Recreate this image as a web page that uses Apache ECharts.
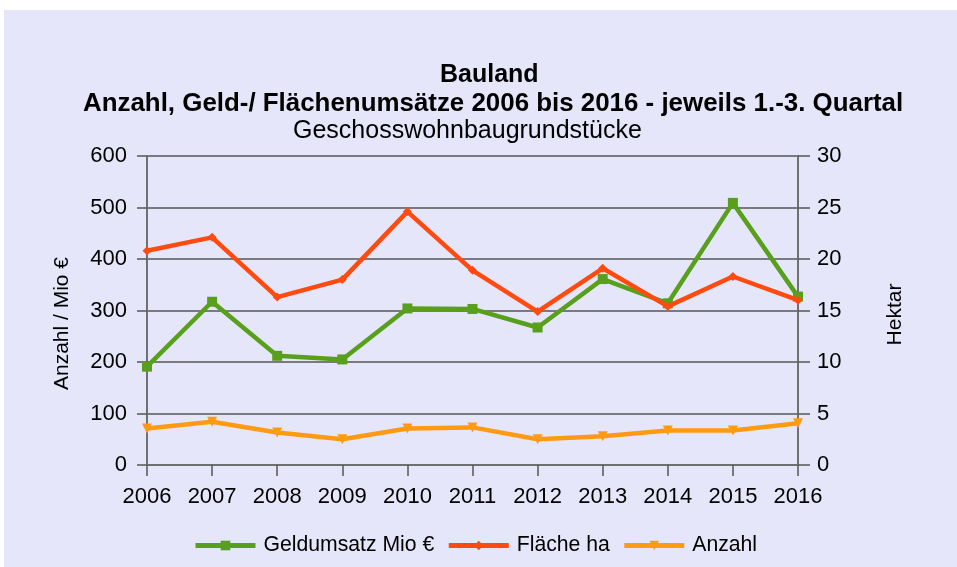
<!DOCTYPE html>
<html><head><meta charset="utf-8">
<script src="https://cdn.jsdelivr.net/npm/echarts@6/dist/echarts.min.js"></script>
<style>html,body{margin:0;padding:0;background:#fff}#c{width:957px;height:567px}</style>
</head><body><div id="c"></div>
<script>
const years = ['2006','2007','2008','2009','2010','2011','2012','2013','2014','2015','2016'];
const geldumsatz = [191, 317, 212, 205, 304, 303, 267, 361, 314, 509, 327];
const flaeche = [20.8, 22.1, 16.3, 18.0, 24.6, 18.9, 14.9, 19.1, 15.4, 18.3, 16.0];
const anzahl = [71, 84, 63, 50, 71, 73, 50, 56, 67, 67, 81];
const leftTicks = [0, 600, 100];
const rightTicks = [0, 30, 5];

const FONT = 'Liberation Sans, Arial, sans-serif';
const GREEN = '#58A01C', RED = '#FF4A10', ORANGE = '#FF9A12';
const chart = echarts.init(document.getElementById('c'));
chart.setOption({
  backgroundColor: '#ffffff',
  animation: false,
  graphic: [{type:'rect', shape:{x:4,y:10,width:953,height:557}, style:{fill:'#E6E6FA'}, z:-10, silent:true}],
  title: [
    {text:'Bauland', left:435, top:58, textStyle:{fontFamily:FONT, fontSize:25, fontWeight:'bold', color:'#000'}},
    {text:'Anzahl, Geld-/ Flächenumsätze 2006 bis 2016 - jeweils 1.-3. Quartal', left:78, top:86, textStyle:{fontFamily:FONT, fontSize:25.9, fontWeight:'bold', color:'#000'}},
    {text:'Geschosswohnbaugrundstücke', left:288, top:114, textStyle:{fontFamily:FONT, fontSize:25, fontWeight:'normal', color:'#000'}}
  ],
  grid: {left:147, right:159, top:156, bottom:102, containLabel:false},
  legend: {
    bottom: 6, left: 188, itemWidth: 60, itemHeight: 12, itemGap: 12,
    textStyle: {fontFamily:FONT, fontSize:21.2, color:'#000', padding:[0,0,0,3]},
    data: [
      {name:'Geldumsatz Mio €', lineStyle:{width:5, color:GREEN}},
      {name:'Fläche ha', lineStyle:{width:5, color:RED}},
      {name:'Anzahl', lineStyle:{width:5, color:ORANGE}}
    ]
  },
  xAxis: {
    type:'category', data: years, boundaryGap:false,
    axisLine:{lineStyle:{color:'#707070', width:2}},
    axisTick:{show:true, length:11, lineStyle:{color:'#555', width:1.5}},
    axisLabel:{fontFamily:FONT, fontSize:22, color:'#000', margin:21},
    splitLine:{show:false}
  },
  yAxis: [
    {type:'value', min:leftTicks[0], max:leftTicks[1], interval:leftTicks[2],
     name:'Anzahl / Mio €', nameLocation:'middle', nameGap:74, nameRotate:90,
     nameTextStyle:{fontFamily:FONT, fontSize:21, color:'#000', padding:[0,26,0,0]},
     axisLine:{show:true, lineStyle:{color:'#707070', width:2}},
     axisTick:{show:true, length:10, lineStyle:{color:'#555', width:1.5}},
     axisLabel:{fontFamily:FONT, fontSize:22, color:'#000', margin:20},
     splitLine:{show:true, lineStyle:{color:'#555', width:1.5}}},
    {type:'value', min:rightTicks[0], max:rightTicks[1], interval:rightTicks[2], position:'right',
     name:'Hektar', nameLocation:'middle', nameGap:87, nameRotate:90,
     nameTextStyle:{fontFamily:FONT, fontSize:21, color:'#000', padding:[0,8,0,0]},
     axisLine:{show:true, lineStyle:{color:'#707070', width:2}},
     axisTick:{show:true, length:12, lineStyle:{color:'#555', width:1.5}},
     axisLabel:{fontFamily:FONT, fontSize:22, color:'#000', margin:19},
     splitLine:{show:false}}
  ],
  series: [
    {name:'Geldumsatz Mio €', type:'line', yAxisIndex:0, data:geldumsatz,
     symbol:'rect', symbolSize:10, lineStyle:{width:4.5, color:GREEN}, itemStyle:{color:GREEN}, z:3},
    {name:'Fläche ha', type:'line', yAxisIndex:1, data:flaeche,
     symbol:'diamond', symbolSize:9, lineStyle:{width:4.5, color:RED}, itemStyle:{color:RED}, z:4},
    {name:'Anzahl', type:'line', yAxisIndex:0, data:anzahl,
     symbol:'triangle', symbolRotate:180, symbolSize:10, lineStyle:{width:4.5, color:ORANGE}, itemStyle:{color:ORANGE}, z:2}
  ]
});
</script></body></html>
